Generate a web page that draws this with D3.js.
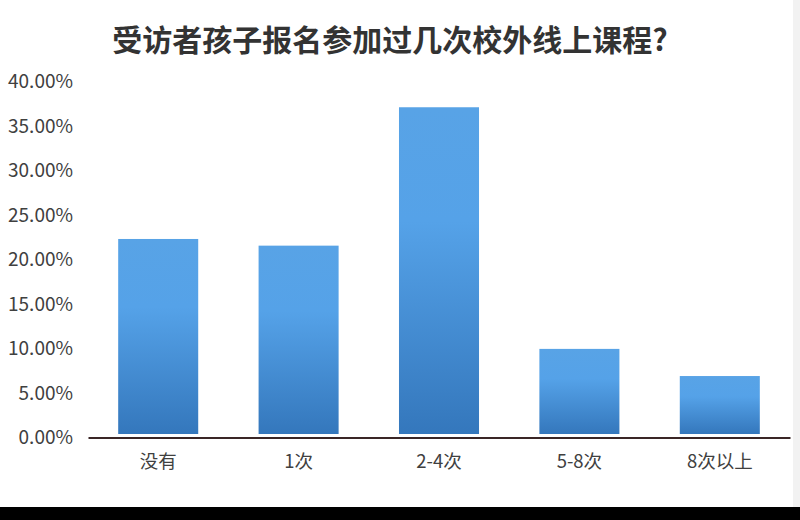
<!DOCTYPE html>
<html><head><meta charset="utf-8">
<script src="https://cdn.jsdelivr.net/npm/d3@7"></script>
<style>
html,body{margin:0;padding:0;background:#fff;}
svg{display:block;}
</style></head>
<body>
<svg id="c" width="800" height="520"></svg>
<script>
const title = "受访者孩子报名参加过几次校外线上课程?";
const categories = ["没有", "1次", "2-4次", "5-8次", "8次以上"];
const values = [0.2225, 0.215, 0.3705, 0.099, 0.0685];
const yTicks = [0, 0.05, 0.10, 0.15, 0.20, 0.25, 0.30, 0.35, 0.40];

const svg = d3.select("#c");
const font = "'Noto Sans CJK SC','Noto Sans',sans-serif";

svg.append("rect").attr("x",0).attr("y",0).attr("width",800).attr("height",520).attr("fill","#fff");

const defs = svg.append("defs");
const g = defs.append("linearGradient").attr("id","barg").attr("x1",0).attr("y1",0).attr("x2",0).attr("y2",1);
g.append("stop").attr("offset","0%").attr("stop-color","#58a3e6");
g.append("stop").attr("offset","35%").attr("stop-color","#55a2e8");
g.append("stop").attr("offset","100%").attr("stop-color","#3477bc");

const x = d3.scaleBand().domain(categories).range([88, 790]).paddingInner(0.43).paddingOuter(0.215);
const y = d3.scaleLinear().domain([0, 0.40]).range([437, 81]);

svg.append("text").attr("x", 390).attr("y", 51).attr("text-anchor","middle")
  .attr("font-family", font).attr("font-weight","bold").attr("font-size", 30)
  .attr("fill","#333").text(title);

const yAxis = d3.axisLeft(y).tickValues(yTicks).tickFormat(d3.format(".2%")).tickSize(0).tickPadding(0);
const ya = svg.append("g").attr("transform","translate(73,0)").call(yAxis);
ya.select(".domain").remove();
ya.selectAll("text").attr("font-family", font).attr("font-size", 19).attr("fill","#404040").attr("dy","0.35em");

svg.append("g").selectAll("rect").data(values).join("rect")
  .attr("x", (d,i) => x(categories[i]))
  .attr("width", x.bandwidth())
  .attr("y", d => y(d))
  .attr("height", d => y(0) - 3 - y(d))
  .attr("fill","url(#barg)");

const xAxis = d3.axisBottom(x).tickSize(0).tickPadding(17);
const xa = svg.append("g").attr("transform","translate(0,437.5)").call(xAxis);
xa.select(".domain").attr("stroke","#3a2626").attr("stroke-width",2);
xa.selectAll("text").attr("font-family", font).attr("font-size", 18.5).attr("fill","#404040");

svg.append("rect").attr("x",0).attr("y",507).attr("width",800).attr("height",13).attr("fill","#000");
svg.append("rect").attr("x",793).attr("y",0).attr("width",7).attr("height",507).attr("fill","#f2f2f2");
</script>
</body></html>
